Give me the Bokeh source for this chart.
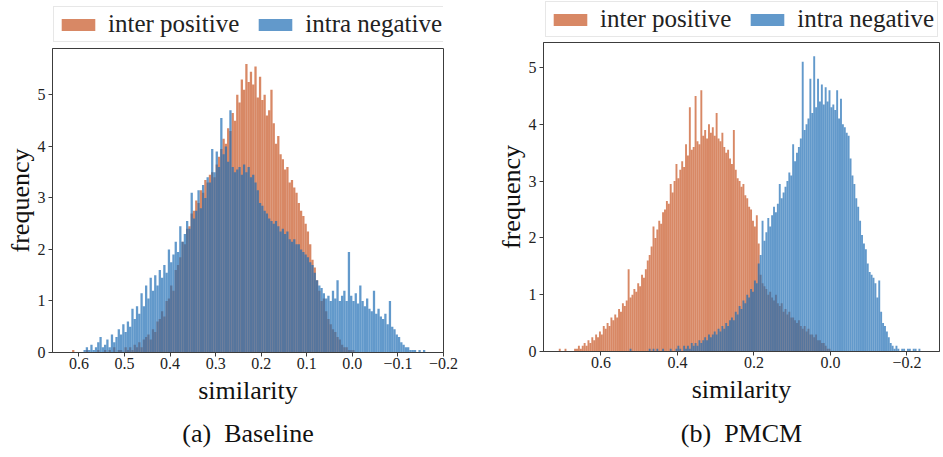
from bokeh.plotting import figure
from bokeh.layouts import row, column
from bokeh.models import FixedTicker, Legend, LegendItem, Title, Range1d
from bokeh.embed import file_html
from bokeh.resources import INLINE

# ---------------- data (histogram densities, bins of width 0.005, listed left->right in the picture) ----
BIN_WIDTH = 0.005
series_names = ["inter positive", "intra negative"]

a_pos_start = 0.620
a_pos = [
    0, 0.05, 0, 0, 0, 0, 0, 0.05, 0, 0,
    0, 0, 0.05, 0, 0, 0.05, 0, 0.05, 0, 0.1,
    0, 0.05, 0.05, 0, 0.1, 0.05, 0.1, 0.05, 0.15, 0.1,
    0.2, 0.1, 0.25, 0.3, 0.35, 0.25, 0.45, 0.4, 0.6, 0.65,
    0.8, 0.7, 1.0, 1.05, 1.3, 1.2, 1.6, 1.7, 1.85, 2.15,
    2.1, 2.4, 2.45, 2.7, 2.75, 2.95, 2.9, 3.15, 3.1, 3.35,
    3.3, 3.45, 3.5, 3.4, 3.65, 3.8, 3.95, 4.15, 4.05, 4.35,
    4.3, 4.65, 4.5, 5.0, 4.85, 5.3, 5.1, 5.6, 5.25, 5.45,
    5.2, 5.55, 4.95, 5.35, 4.9, 5.0, 4.6, 4.7, 5.1, 4.45,
    4.05, 4.2, 3.85, 3.75, 3.55, 3.6, 3.3, 3.35, 3.2, 3.1,
    2.9, 2.75, 2.65, 2.5, 2.35, 2.1, 1.8, 1.65, 1.4, 1.2,
    1.0, 1.05, 0.8, 0.65, 0.55, 0.45, 0.4, 0.3, 0.25, 0.15,
    0.1, 0.1, 0.05, 0.05, 0.05,
]

a_neg_start = 0.620
a_neg = [
    0, 0, 0, 0, 0, 0, 0.05, 0.1, 0.05, 0.15,
    0.05, 0.1, 0.2, 0.3, 0.1, 0.15, 0.25, 0.1, 0.35, 0.2,
    0.3, 0.45, 0.35, 0.55, 0.4, 0.6, 0.5, 0.85, 0.65, 0.9,
    0.75, 1.15, 0.9, 1.3, 1.05, 1.45, 1.2, 1.5, 1.3, 1.6,
    1.45, 1.7, 1.55, 2.0, 1.75, 1.9, 2.15, 1.95, 2.45, 2.15,
    2.3, 2.55, 2.4, 3.1, 2.6, 2.75, 3.15, 2.8, 3.25, 3.0,
    3.4, 3.3, 3.95, 3.5, 3.9, 3.6, 4.55, 3.85, 4.0, 3.7,
    4.7, 3.6, 3.5, 3.55, 3.6, 3.45, 3.65, 3.5, 3.6, 3.4,
    3.45, 3.3, 3.15, 2.9, 2.85, 2.75, 2.7, 2.6, 2.55, 2.5,
    2.55, 2.45, 2.35, 2.4, 2.3, 2.35, 2.2, 2.15, 2.2, 2.1,
    2.1, 2.0, 1.95, 1.9, 1.85, 1.75, 1.7, 1.55, 1.4, 1.3,
    1.25, 1.15, 1.05, 1.1, 1.0, 1.2, 1.05, 1.4, 1.0, 1.1,
    1.2, 1.0, 1.95, 1.1, 1.0, 1.15, 0.95, 1.3, 1.0, 0.9,
    1.05, 0.85, 0.8, 1.2, 0.75, 0.85, 0.7, 0.65, 0.75, 0.55,
    1.0, 0.5, 0.45, 0.35, 0.3, 0.2, 0.15, 0.1, 0.1, 0.05,
    0.05, 0.05, 0, 0.05, 0, 0.05,
]

b_pos_start = 0.720
b_pos = [
    0, 0, 0.05, 0, 0, 0.05, 0, 0, 0, 0,
    0.05, 0.05, 0.1, 0.05, 0.1, 0.15, 0.1, 0.2, 0.15, 0.25,
    0.2, 0.3, 0.25, 0.35, 0.3, 0.45, 0.4, 0.5, 0.45, 0.6,
    0.55, 0.65, 0.6, 0.75, 0.7, 0.85, 0.8, 0.9, 1.45, 0.95,
    1.0, 1.1, 1.05, 1.2, 1.15, 1.35, 1.3, 1.45, 1.6, 1.7,
    1.85, 2.2, 2.0, 2.15, 2.3, 2.25, 2.45, 2.5, 2.65, 2.6,
    2.95, 2.8, 3.0, 3.3, 3.05, 3.2, 3.35, 3.25, 3.65, 3.45,
    4.3, 3.55, 3.6, 4.5, 3.7, 3.65, 4.6, 3.8, 3.9, 3.75,
    4.0, 3.85, 3.95, 3.8, 4.2, 3.75, 3.7, 3.85, 3.6, 3.5,
    3.55, 3.4, 3.3, 3.9, 3.2, 3.05, 3.0, 2.9, 2.95, 2.75,
    2.7, 2.55, 2.5, 2.3, 2.2, 2.4, 1.9, 1.35, 1.2, 1.15,
    1.1, 1.0, 1.05, 0.95, 0.9, 1.0, 0.85, 0.8, 0.85, 0.7,
    0.75, 0.65, 0.7, 0.6, 0.6, 0.55, 0.5, 0.55, 0.45, 0.4,
    0.45, 0.35, 0.4, 0.3, 0.3, 0.25, 0.3, 0.2, 0.2, 0.15,
    0.15, 0.1, 0.05, 0.05,
]

b_neg_start = 0.530
b_neg = [
    0, 0.05, 0, 0, 0, 0, 0, 0, 0, 0,
    0, 0.05, 0, 0.05, 0, 0.05, 0, 0, 0.05, 0,
    0, 0, 0.05, 0, 0, 0.05, 0.1, 0.05, 0, 0.1,
    0.05, 0.1, 0.05, 0.15, 0.1, 0.15, 0.1, 0.2, 0.15, 0.2,
    0.25, 0.2, 0.3, 0.25, 0.3, 0.35, 0.3, 0.4, 0.35, 0.45,
    0.4, 0.5, 0.45, 0.55, 0.6, 0.55, 0.7, 0.65, 0.8, 0.75,
    0.9, 0.85, 1.0, 0.95, 1.1, 1.05, 1.25, 1.2, 1.55, 1.7,
    2.3, 1.95, 2.1, 2.35, 2.2, 2.4, 2.55, 2.45, 2.6, 2.95,
    2.7, 2.8, 2.9, 3.0, 3.15, 3.1, 3.65, 3.35, 3.5, 3.6,
    3.75, 5.1, 3.9, 4.0, 4.1, 4.8, 4.2, 5.2, 4.3, 4.8,
    4.4, 4.7, 4.35, 4.65, 4.4, 4.6, 4.3, 4.35, 4.25, 4.6,
    4.1, 4.45, 4.0, 3.95, 3.85, 3.8, 3.4, 3.1, 2.95, 2.7,
    2.55, 2.3, 2.05, 1.9, 1.8, 1.55, 1.4, 1.35, 1.3, 1.2,
    0.95, 1.25, 0.7, 0.5, 0.45, 0.35, 0.25, 0.15, 0.1, 0.05,
    0.1, 0.05, 0, 0.05, 0.05, 0, 0.05, 0.05, 0, 0.05,
    0.05, 0, 0.05, 0,
]

a_x_ticks = [0.6, 0.5, 0.4, 0.3, 0.2, 0.1, 0.0, -0.1, -0.2]
a_x_labels = ["0.6", "0.5", "0.4", "0.3", "0.2", "0.1", "0.0", "\u22120.1", "\u22120.2"]
b_x_ticks = [0.6, 0.4, 0.2, 0.0, -0.2]
b_x_labels = ["0.6", "0.4", "0.2", "0.0", "\u22120.2"]
y_ticks = [0, 1, 2, 3, 4, 5]
x_label = "similarity"
y_label = "frequency"
captions = ["(a)\u00a0\u00a0Baseline", "(b)\u00a0\u00a0PMCM"]

# ---------------- style ----------------
ORANGE = "#C75624"
BLUE = "#206DB5"
ALPHA = 0.7
FONT = "Liberation Serif"
INK = "#222222"
FRAME = "#3c3c3c"


def bin_edges(start, vals):
    lefts = [start - i * BIN_WIDTH for i in range(len(vals))]
    rights = [l - BIN_WIDTH for l in lefts]
    return lefts, rights


def draw_hist(p, pos_start, pos_vals, neg_start, neg_vals):
    l1, r1 = bin_edges(pos_start, pos_vals)
    rp = p.quad(left=l1, right=r1, top=pos_vals, bottom=0, fill_color=ORANGE,
                fill_alpha=ALPHA, line_color=None)
    l2, r2 = bin_edges(neg_start, neg_vals)
    rn = p.quad(left=l2, right=r2, top=neg_vals, bottom=0, fill_color=BLUE,
                fill_alpha=ALPHA, line_color=None)
    return rp, rn


def legend_strip(pos_start, pos_vals, neg_start, neg_vals, xr, width, height, bl, br, leg_xy):
    # a strip above the panel that holds only the legend; the same series are drawn
    # in it but its y-range lies above the data, so only the legend shows
    lf = figure(width=width, height=height, x_range=Range1d(*xr), y_range=Range1d(100, 101),
                output_backend="svg", toolbar_location=None, x_axis_type=None, y_axis_type=None,
                min_border=0, min_border_left=bl, min_border_right=br,
                min_border_top=0, min_border_bottom=0)
    lf.outline_line_color = None
    lf.background_fill_color = "white"
    lf.border_fill_color = "white"
    rp, rn = draw_hist(lf, pos_start, pos_vals, neg_start, neg_vals)
    legend = Legend(items=[LegendItem(label=series_names[0], renderers=[rp]),
                           LegendItem(label=series_names[1], renderers=[rn])],
                    orientation="horizontal", location=leg_xy,
                    label_text_font=FONT, label_text_font_size="25px", label_text_color=INK,
                    glyph_width=42, glyph_height=15, label_standoff=9, spacing=15,
                    padding=3, margin=0,
                    border_line_color="#d0d0d0", border_line_width=1,
                    background_fill_color="white", background_fill_alpha=1.0)
    lf.add_layout(legend, "center")
    return lf


def panel(pos_start, pos_vals, neg_start, neg_vals, xr, ymax, xticks, xlabels, caption,
          width, height, bl, br, bt, bb, cap_standoff):
    p = figure(width=width, height=height, x_range=Range1d(*xr), y_range=Range1d(0, ymax),
               output_backend="svg", toolbar_location=None,
               min_border_left=bl, min_border_right=br, min_border_top=bt, min_border_bottom=bb)
    p.background_fill_color = "white"
    p.border_fill_color = "white"
    p.outline_line_color = FRAME
    p.outline_line_width = 1
    p.xgrid.visible = False
    p.ygrid.visible = False

    draw_hist(p, pos_start, pos_vals, neg_start, neg_vals)

    p.xaxis.ticker = FixedTicker(ticks=xticks)
    p.xaxis.major_label_overrides = {t: s for t, s in zip(xticks, xlabels)}
    p.yaxis.ticker = FixedTicker(ticks=y_ticks)
    for ax in (p.xaxis, p.yaxis):
        ax.axis_line_color = FRAME
        ax.major_tick_line_color = FRAME
        ax.minor_tick_line_color = None
        ax.major_tick_in = 0
        ax.major_tick_out = 4
        ax.major_label_text_font = FONT
        ax.major_label_text_font_size = "16px"
        ax.major_label_text_color = INK
        ax.axis_label_text_font = FONT
        ax.axis_label_text_font_size = "26px"
        ax.axis_label_text_font_style = "normal"
        ax.axis_label_text_color = "#111111"
    p.xaxis.major_label_standoff = 1
    p.yaxis.major_label_standoff = 3
    p.xaxis.axis_label = x_label
    p.yaxis.axis_label = y_label
    p.xaxis.axis_label_standoff = 4
    p.yaxis.axis_label_standoff = 0

    cap = Title(text=caption, align="center", text_font=FONT, text_font_size="26px",
                text_font_style="normal", text_color="#111111", standoff=cap_standoff)
    p.add_layout(cap, "below")
    return p


xr_a = (0.658, -0.2)
xr_b = (0.75, -0.285)
la = legend_strip(a_pos_start, a_pos, a_neg_start, a_neg, xr_a, 470, 48, 52, 27, (1, 6))
pa = panel(a_pos_start, a_pos, a_neg_start, a_neg, xr_a, 5.9, a_x_ticks, a_x_labels,
           captions[0], 470, 409, 52, 27, 0, 105, 19)
lb = legend_strip(b_pos_start, b_pos, b_neg_start, b_neg, xr_b, 473, 42, 73, 4, (2, 5))
pb = panel(b_pos_start, b_pos, b_neg_start, b_neg, xr_b, 5.44, b_x_ticks, b_x_labels,
           captions[1], 473, 415, 73, 4, 0, 106, 20)

layout = row(column(la, pa), column(lb, pb))
open("out.html", "w").write(file_html(layout, INLINE))
